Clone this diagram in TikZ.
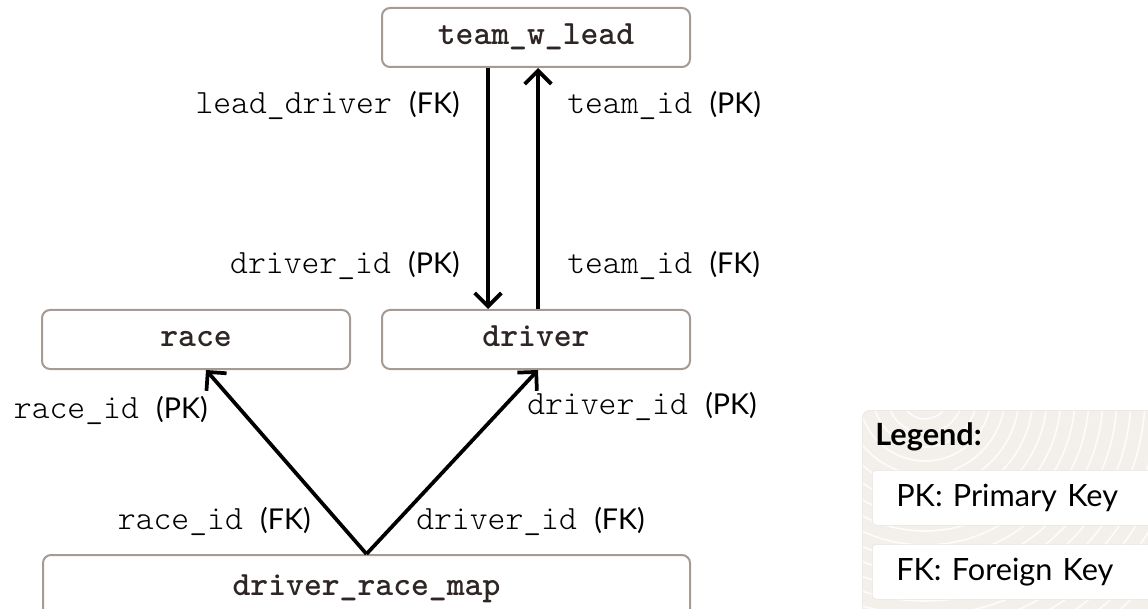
\documentclass[tikz,border=0pt]{standalone}
\usepackage{fontspec}
\setmainfont{Lato}
\setmonofont{Latin Modern Mono Light}
\usepackage{xcolor}
\usetikzlibrary{arrows.meta,positioning}
\definecolor{boxline}{HTML}{A59B94}
\definecolor{titletext}{HTML}{2E2624}
\definecolor{legendbg}{HTML}{F3F0EC}
\definecolor{legendline}{HTML}{E8E4DE}
\newcommand{\keytag}[2]{\texttt{#1}\hspace{13pt}{\fontsize{21.5}{24}\selectfont(#2)}}

\begin{document}
\begin{tikzpicture}[
x=0.75pt, y=-0.75pt,
font=\fontsize{25.5}{28}\selectfont,
table/.style={draw=boxline, line width=1.5pt, rounded corners=6pt, fill=white,
  minimum width=231pt, minimum height=44.25pt, inner sep=0pt,
  text height=14pt, text depth=3pt, text=titletext,
  font=\fontsize{25.5}{28}\selectfont\ttfamily\bfseries},
ref/.style={-{Straight Barb[length=10pt,width=20pt]}, line width=2.8pt},
keylabel/.style={inner sep=0pt},
keybox/.style={draw=legendline, fill=white, rounded corners=3pt,
  minimum height=41.25pt, text width=180pt, align=left, inner xsep=18pt,
  font=\fontsize{23}{26}\selectfont}
]
\useasboundingbox (0,0) rectangle (1148,609);

% Tables
\node[table] (driver) at (536,339.5) {driver};
\node[table, left=22.5pt of driver] (race) {race};
\node[table, above=180.75pt of driver] (team) {team\_w\_lead};
\node[table, minimum width=485.25pt, minimum height=49.5pt] (map) at (366.5,588) {driver\_race\_map};

% References
\draw[ref] ([xshift=-36pt]team.south) -- ([xshift=-36pt]driver.north);
\draw[ref] ([xshift=1.5pt]driver.north) -- ([xshift=1.5pt]team.south);
\draw[ref] (map.north) -- ([xshift=7.5pt]race.south);
\draw[ref] (map.north) -- ([xshift=1.5pt]driver.south);

% Key labels
\node[keylabel, anchor=east] (leadfk) at (460,105) {\keytag{lead\_driver}{FK}};
\node[keylabel, anchor=east] (driverpk) at (460,265) {\keytag{driver\_id}{PK}};
\node[keylabel, anchor=west] (teampk) at (567,105) {\keytag{team\_id}{PK}};
\node[keylabel, anchor=west] (teamfk) at (567,265) {\keytag{team\_id}{FK}};
\node[keylabel, anchor=east] (racepk) at (208,410) {\keytag{race\_id}{PK}};
\node[keylabel, anchor=west] (driverpk2) at (527,406) {\keytag{driver\_id}{PK}};
\node[keylabel, anchor=east] (racefk) at (311,521) {\keytag{race\_id}{FK}};
\node[keylabel, anchor=west] (driverfk) at (416,521) {\keytag{driver\_id}{FK}};

% Legend
\node[draw=legendline, fill=legendbg, rounded corners=6pt, anchor=north west,
  minimum width=223.5pt, minimum height=157.5pt] (legend) at (862,410) {};
\begin{scope}
\clip[rounded corners=6pt] (863,411) rectangle (1160,620);
\foreach \r in {10,24,...,290}
  \draw[white, line width=1.2pt, opacity=0.8] (925,395) circle[radius=\r];
\end{scope}
\node[anchor=west, inner sep=0pt, font=\fontsize{23}{26}\selectfont\bfseries] (legendtitle) at (875,437) {Legend:};
\node[keybox, anchor=north west] (pk) at (872,470) {PK: Primary Key};
\node[keybox, anchor=north west] (fk) at (872,544) {FK: Foreign Key};
\end{tikzpicture}
\end{document}
